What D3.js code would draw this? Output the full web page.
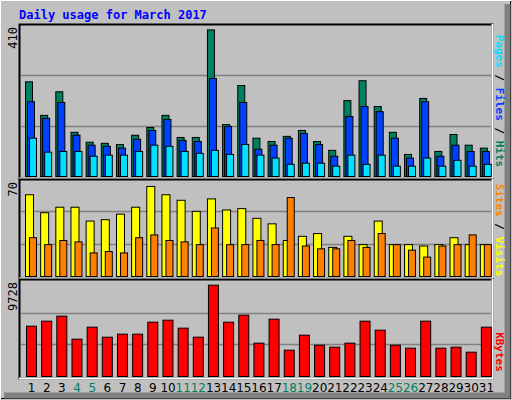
<!DOCTYPE html>
<html><head><meta charset="utf-8">
<script src="https://cdn.jsdelivr.net/npm/d3@7"></script>
<style>body{margin:0;background:#fff}svg{display:block}</style>
</head><body>
<svg id="c" width="512" height="400"></svg>
<script>
// --- data ---
const days = d3.range(1, 32);
const weekends = [4, 5, 11, 12, 18, 19, 25, 26];
const hits  = [257,166,230,120,93,90,87,112,133,166,106,106,398,141,247,104,95,109,125,95,71,206,260,190,120,60,212,68,114,85,77];
const files = [203,158,201,112,85,82,77,101,125,155,98,95,266,136,201,74,85,104,117,87,55,163,190,176,104,50,203,55,85,68,68];
const pages = [104,66,68,68,55,58,58,68,85,82,68,63,71,60,87,58,50,33,36,36,28,58,33,58,28,28,50,28,44,28,33];
const visits = [59,46,50,50,40,41,45,50,65,59,55,47,56,48,49,42,38,26,29,31,21,29,23,40,23,23,22,23,28,23,23];
const sites  = [28,23,26,25,17,18,17,28,30,26,25,23,35,23,23,26,23,57,22,20,20,26,21,31,23,19,14,22,23,30,23];
const kbytes = [5154,5666,6178,3823,5051,4027,4335,4335,5563,5768,4949,4027,9352,5563,6280,3413,5870,2696,4232,3208,3003,3413,5666,4744,3208,2901,5666,2901,3003,2491,5051];
const maxHits = 410, maxVisits = 70, maxKB = 9728;

const svg = d3.select("#c");
const mono = "'DejaVu Sans Mono', monospace";

// background with bevel
svg.append("rect").attr("width", 512).attr("height", 400).attr("fill", "#c0c0c0");
svg.append("path").attr("d", "M0.5,399.5V0.5H511.5").attr("stroke", "#fff").attr("fill", "none");
svg.append("path").attr("d", "M1,398.5H510.5V1").attr("stroke", "#000").attr("fill", "none");
svg.append("path").attr("d", "M4,395.5H507.5V4").attr("stroke", "#808080").attr("stroke-width", 6).attr("fill", "none");

svg.append("text").attr("x", 19).attr("y", 19).attr("fill", "#0000ff")
    .style("font", `bold 12px ${mono}`).text("Daily usage for March 2017");

const X0 = 21, X1 = 491;
const x = d3.scaleBand().domain(days).range([X0, X1]);

function frame(top, bottom) {
    svg.append("rect").attr("x", X0 - 1.5).attr("y", top - 1.5)
        .attr("width", X1 - X0 + 3).attr("height", bottom - top + 3)
        .attr("fill", "#c0c0c0").attr("stroke", "#000").attr("stroke-width", 2);
    svg.append("path").attr("d", `M${X0 - 2},${bottom + 1.5}H${X1 + 1.5}V${top - 2}`)
        .attr("stroke", "#fff").attr("stroke-width", 2).attr("fill", "none");
}

function grid(y, ticks) {
    ticks.forEach(t => svg.append("line").attr("x1", X0).attr("x2", X1)
        .attr("y1", Math.round(y(t)) + 0.5).attr("y2", Math.round(y(t)) + 0.5)
        .attr("stroke", "#808080").attr("stroke-width", 1.5));
}

function bars(y, values, off, w, color) {
    svg.append("g").selectAll("rect").data(values).join("rect")
        .attr("x", (d, i) => x(days[i]) + off + 0.5)
        .attr("width", w)
        .attr("y", d => y(d) + 0.5)
        .attr("height", d => y(0) - y(d))
        .attr("fill", color).attr("stroke", "#000").attr("stroke-width", 1);
}

function leftLabel(text, yTop) {
    svg.append("text").attr("transform", `translate(17,${yTop}) rotate(-90)`)
        .attr("text-anchor", "end").attr("fill", "#000")
        .style("font", `12px ${mono}`).text(text);
}

function rightLabel(parts, yMid) {
    const t = svg.append("text").attr("transform", `translate(496,${yMid}) rotate(90)`)
        .attr("text-anchor", "middle").style("font", `bold 11px ${mono}`);
    parts.forEach(([s, c]) => t.append("tspan").attr("fill", c).text(s));
}

// panel 1: hits / files / pages
frame(26, 177);
const y1 = d3.scaleLinear().domain([0, maxHits]).range([176, 25]);
grid(y1, [maxHits / 3, maxHits * 2 / 3]);
bars(y1, hits, 4, 7, "#00805f");
bars(y1, files, 6, 7, "#0040ff");
bars(y1, pages, 8, 7, "#00e0ff");
leftLabel("410", 27);
rightLabel([["Pages", "#00e0ff"], [" / ", "#000"], ["Files", "#0040ff"], [" / ", "#000"], ["Hits", "#00805f"]], 101);

// panel 2: visits / sites
frame(181, 277);
const y2 = d3.scaleLinear().domain([0, maxVisits]).range([276, 179]);
grid(y2, [maxVisits / 3, maxVisits * 2 / 3]);
bars(y2, visits, 4, 8, "#ffff00");
bars(y2, sites, 8, 7, "#ff8000");
leftLabel("70", 182);
rightLabel([["Sites", "#ff8000"], [" / ", "#000"], ["Visits", "#ffff00"]], 230);

// panel 3: kbytes
frame(281, 377);
const y3 = d3.scaleLinear().domain([0, maxKB]).range([376, 281]);
grid(y3, [maxKB / 3, maxKB * 2 / 3]);
bars(y3, kbytes, 5, 10, "#ff0000");
leftLabel("9728", 282);
rightLabel([["KBytes", "#ff0000"]], 352);

// day labels
svg.append("g").selectAll("text").data(days).join("text")
    .attr("x", d => x(d) + x.bandwidth() / 2 + 3)
    .attr("y", 392).attr("text-anchor", "middle")
    .attr("fill", d => weekends.includes(d) ? "#00805f" : "#000")
    .style("font", "12px 'DejaVu Sans', sans-serif").text(d => d);
</script>
</body></html>
